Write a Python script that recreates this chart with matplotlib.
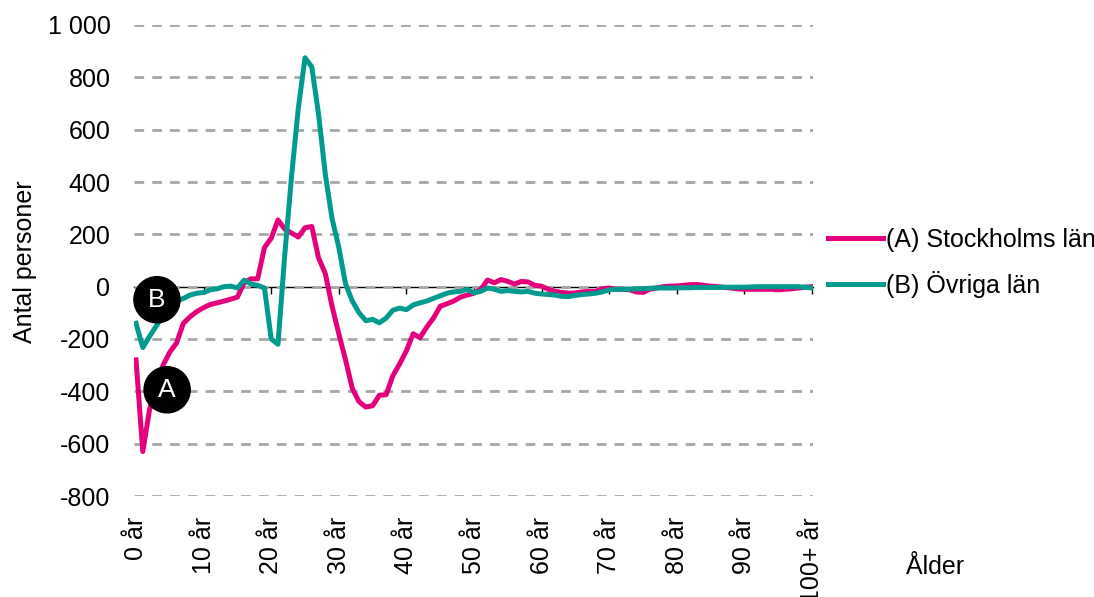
import matplotlib
matplotlib.use("Agg")
import matplotlib.pyplot as plt
import numpy as np

plt.rcParams['font.family'] = ['Liberation Sans', 'DejaVu Sans']

ages = list(range(0, 101))
tick_ages = [0, 10, 20, 30, 40, 50, 60, 70, 80, 90, 100]
tick_labels = ["0 år", "10 år", "20 år", "30 år", "40 år", "50 år",
               "60 år", "70 år", "80 år", "90 år", "100+ år"]
y_ticks = [-800, -600, -400, -200, 0, 200, 400, 600, 800, 1000]
y_labels = ["-800", "-600", "-400", "-200", "0", "200", "400", "600", "800", "1 000"]

stockholm = [
    -280, -630, -470, -390, -300, -250, -215, -140, -115, -95,
    -80, -68, -62, -55, -48, -40, 15, 30, 30, 150,
    185, 255, 220, 205, 190, 225, 230, 110, 50, -75,
    -180, -280, -390, -440, -460, -455, -415, -413, -340, -295,
    -245, -180, -195, -155, -120, -75, -65, -55, -40, -32,
    -25, -10, 25, 15, 27, 20, 10, 20, 18, 5,
    2, -10, -18, -22, -25, -24, -20, -18, -18, -8,
    -5, -10, -10, -12, -20, -22, -10, -5, 0, 2,
    3, 5, 8, 8, 5, 2, 0, -3, -5, -8,
    -10, -10, -10, -10, -10, -12, -10, -8, -5, -2,
    0,
]
ovriga = [
    -140, -233, -190, -150, -110, -80, -55, -45, -32, -25,
    -22, -12, -8, 0, 2, -5, 25, 10, 5, -5,
    -200, -220, 120, 420, 680, 875, 840, 660, 430, 260,
    150, 10, -55, -100, -130, -125, -138, -120, -90, -82,
    -88, -70, -62, -55, -45, -35, -25, -20, -18, -10,
    -24, -18, -5, -10, -18, -15, -18, -20, -18, -25,
    -28, -30, -32, -37, -38, -33, -30, -28, -25, -20,
    -12, -10, -10, -10, -8, -8, -6, -5, -5, -5,
    -5, -4, -4, -3, -3, -3, -3, -2, -2, -2,
    -2, -1, 0, 0, 0, 0, 0, 0, 0, -2,
    -5,
]
series_names = ["(A) Stockholms län", "(B) Övriga län"]
marker_labels = ["A", "B"]
marker_pos = [(4.6, -394), (3.1, -50)]

pink = "#E4007C"
teal = "#009A8F"
fs = 18

fig = plt.figure(figsize=(10.94, 5.97), dpi=100)
ax = fig.add_axes([134/1094, 1-496/597, (813-134)/1094, (496-25)/597])

ymin, ymax = -800, 1000
ax.set_ylim(ymin, ymax)
ax.set_xlim(-0.3, 100.15)

ax.set_yticks(y_ticks)
ax.set_yticklabels(y_labels, fontsize=fs)
ax.tick_params(axis='y', length=0, pad=17)
ax.yaxis.grid(True, color="#A6A6A6", lw=2.0, linestyle=(0, (3.5, 2.9)))
ax.set_axisbelow(True)

ax.set_xticks(tick_ages)
ax.set_xticklabels(tick_labels, rotation=90, fontsize=fs, va='top')
ax.tick_params(axis='x', length=0, pad=15)

for s in ax.spines.values():
    s.set_visible(False)

sec = ax.secondary_xaxis((0 - ymin) / (ymax - ymin))
sec.set_xticks(tick_ages)
sec.set_xticklabels([])
sec.tick_params(axis='x', direction='out', length=5, width=1, color='black')
sec.spines['bottom'].set_color('black')
sec.spines['bottom'].set_linewidth(1)

l1, = ax.plot(ages, stockholm, color=pink, lw=3.6, solid_joinstyle='round', zorder=3)
l2, = ax.plot(ages, ovriga, color=teal, lw=3.6, solid_joinstyle='round', zorder=3)

for lab, (mx, my) in zip(marker_labels, marker_pos):
    ax.text(mx, my, lab, color='white', fontsize=fs + 1, ha='center', va='center', zorder=5,
            bbox=dict(boxstyle='circle,pad=0.42', fc='black', ec='black'))

fig.legend([l1, l2], series_names, loc='upper left',
           bbox_to_anchor=(828/1094, 1-228/597), frameon=False, fontsize=fs,
           handlelength=2.2, handletextpad=0.1, labelspacing=0.75, borderpad=0, borderaxespad=0)

fig.text(25/1094, 1-262/597, "Antal personer", rotation=90, fontsize=fs, ha='center', va='center')
fig.text(935/1094, 1-567/597, "Ålder", fontsize=fs, ha='center', va='center')

fig.savefig("out.png", dpi=100)
